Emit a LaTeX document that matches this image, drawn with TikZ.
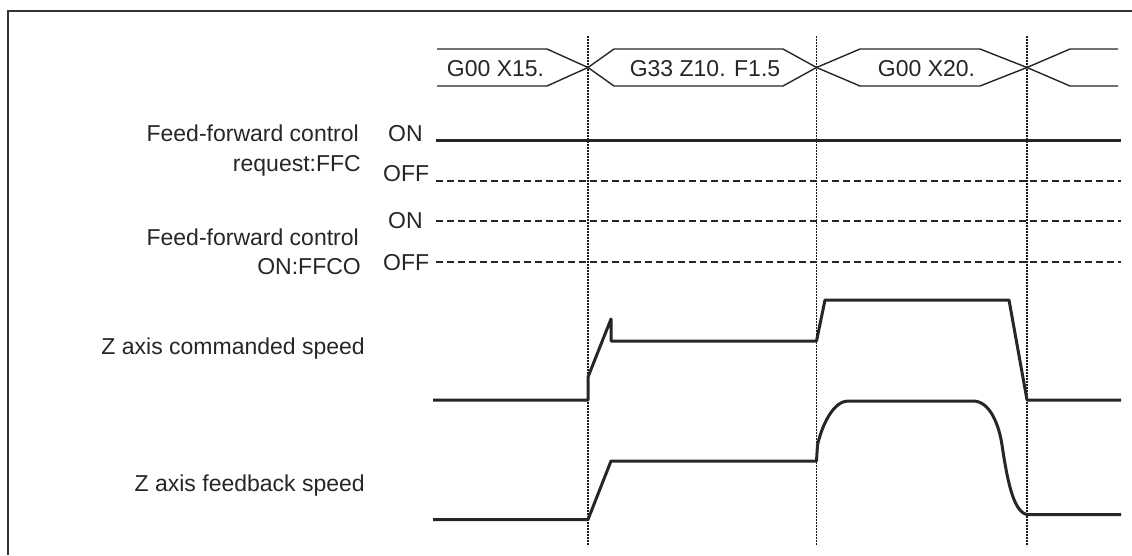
\documentclass[tikz,border=0pt]{standalone}
\usepackage{fontspec}
\setmainfont{Liberation Sans}
\usetikzlibrary{calc}

\begin{document}
\begin{tikzpicture}[
    x=1pt, y=-1pt,
    sig/.style={line width=3pt, black!85, line join=round},
    bus/.style={line width=1.4pt, black!85},
    lvl/.style={line width=2pt, black!85, dash pattern=on 7pt off 4pt},
    lvlon/.style={line width=3pt, black!85},
    tick/.style={line width=1.2pt, black!90, dash pattern=on 2pt off 1pt},
    lbl/.style={font=\fontsize{23}{28}\selectfont, text=black!85, inner sep=0pt}
]
\useasboundingbox (0,0) rectangle (1132,555);

% Frame
\coordinate (fbl) at (8,555);
\coordinate (ftl) at (8,11);
\coordinate (ftr) at (1132,11);
\draw[line width=2pt, black!80] (fbl) -- (ftl) -- (ftr);

% Timing marks
\foreach \x/\n in {588/t1, 816.5/t2, 1027/t3} {
    \coordinate (\n top) at (\x,36);
    \coordinate (\n bot) at (\x,546);
    \draw[tick] (\n top) -- (\n bot);
}

% Program blocks
\coordinate (c1) at (588,67.5);
\coordinate (c2) at (816.5,67.5);
\coordinate (c3) at (1027,67.5);
\draw[bus] (437,49) -- (547,49) -- (c1) -- (614,49) -- (783,49) -- (c2) -- (860,49) -- (980,49) -- (c3) -- (1070,49) -- (1118,49);
\draw[bus] (437,86) -- (547,86) -- (c1) -- (614,86) -- (783,86) -- (c2) -- (860,86) -- (980,86) -- (c3) -- (1070,86) -- (1118,86);
\node[lbl, anchor=base] (b1) at (495.5,76) {G00 X15.};
\node[lbl, anchor=base] (b2) at (705,76) {G33 Z10. F1.5};
\node[lbl, anchor=base] (b3) at (926.5,76) {G00 X20.};

% Signal names
\node[lbl, anchor=base east] (n1a) at (359,141) {Feed-forward control};
\node[lbl, anchor=base east] (n1b) at (361,171) {request:FFC};
\node[lbl, anchor=base east] (n2a) at (359,245) {Feed-forward control};
\node[lbl, anchor=base east] (n2b) at (361,274) {ON:FFCO};
\node[lbl, anchor=base east] (n3) at (365,354) {Z axis commanded speed};
\node[lbl, anchor=base east] (n4) at (365,491) {Z axis feedback speed};

% ON / OFF levels
\node[lbl, anchor=base west] (on1) at (388,141) {ON};
\node[lbl, anchor=base west] (off1) at (383,181) {OFF};
\node[lbl, anchor=base west] (on2) at (388,228) {ON};
\node[lbl, anchor=base west] (off2) at (383,270) {OFF};
\coordinate (on1s) at (436,140);   \coordinate (on1e) at (1121,140);
\coordinate (off1s) at (436,181);  \coordinate (off1e) at (1121,181);
\coordinate (on2s) at (436,221);   \coordinate (on2e) at (1121,221);
\coordinate (off2s) at (436,262);  \coordinate (off2e) at (1121,262);
\draw[lvlon] (on1s) -- (on1e);
\draw[lvl] (off1s) -- (off1e);
\draw[lvl] (on2s) -- (on2e);
\draw[lvl] (off2s) -- (off2e);

% Z axis commanded speed
\draw[sig] (433,400) -- (588,400) -- (588,377) -- (611,319) -- (611,341) -- (816.5,341)
    -- (825,300) -- (1009,300) -- (1027,400) -- (1121,400);

% Z axis feedback speed
\draw[sig] (433,519.5) -- (588,519.5) -- (611,461) -- (816.5,461) -- (817.5,445)
    .. controls (823,421) and (835,401) .. (848,401) -- (973,401)
    .. controls (990,401) and (999,425) .. (1002,445)
    .. controls (1007,478) and (1013,512) .. (1027,514.5) -- (1121,514.5);

\end{tikzpicture}
\end{document}
